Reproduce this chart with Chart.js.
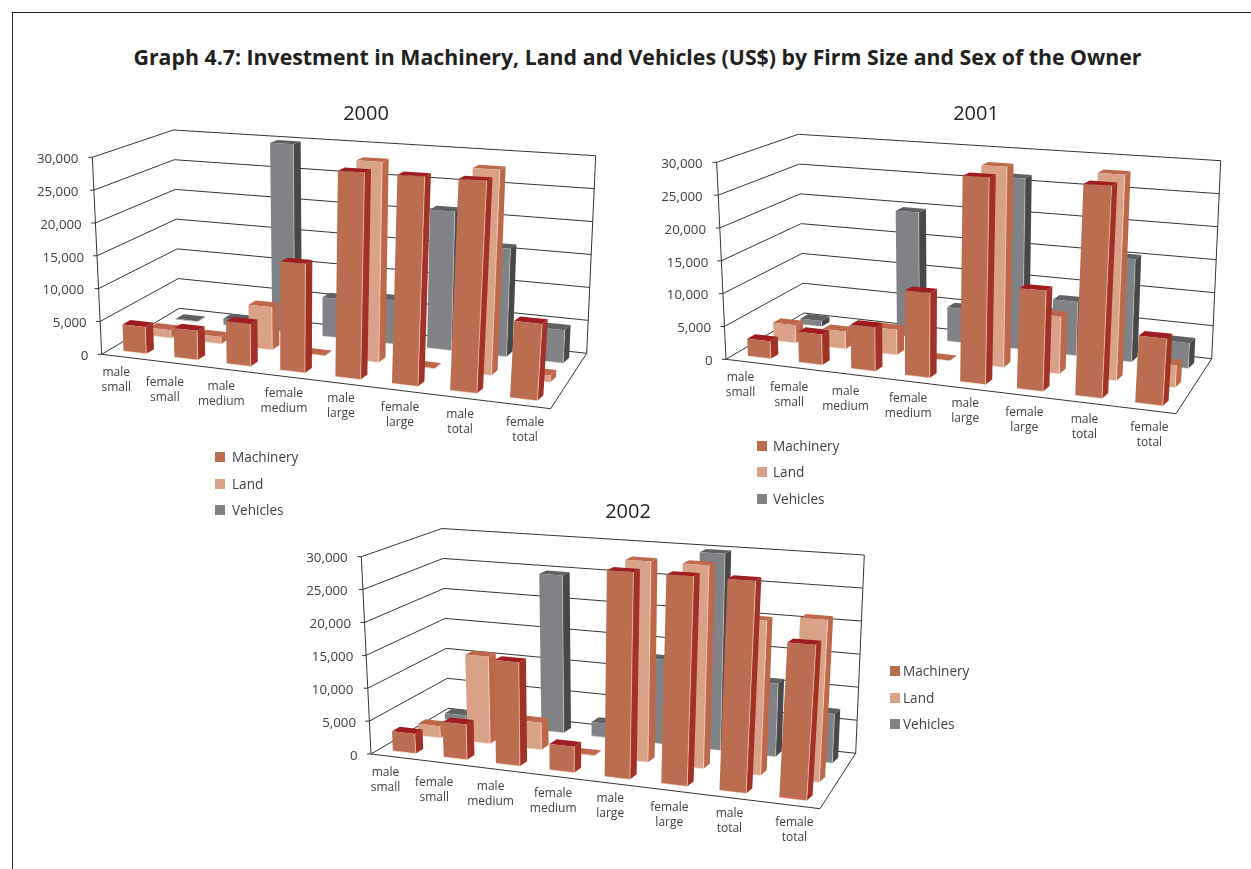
<!DOCTYPE html>
<html><head><meta charset="utf-8">
<script src="https://cdn.jsdelivr.net/npm/chart.js@4"></script>
<style>
html,body{margin:0;padding:0;background:#fff;overflow:hidden;width:1251px;height:869px}
#frame{position:absolute;left:12px;top:12px;width:1260px;height:900px;border-left:1px solid #222;border-top:1px solid #222}
#head{position:absolute;left:0;width:1275px;top:42px;text-align:center;font:bold 21.3px "Open Sans",sans-serif;color:#231f20;line-height:30px;white-space:nowrap}
canvas{position:absolute}
</style></head><body>
<div id="frame"></div>
<div id="head">Graph 4.7: Investment in Machinery, Land and Vehicles (US$) by Firm Size and Sex of the Owner</div>
<canvas id="c2000"></canvas><canvas id="c2001"></canvas><canvas id="c2002"></canvas>
<script>
const categories=['male small','female small','male medium','female medium','male large','female large','male total','female total'];
const seriesNames=['Machinery','Land','Vehicles'];
const machinery2000=[4100,4400,6300,16000,30000,30000,30000,10700];
const land2000=[1260,1100,6560,100,30000,100,30000,1000];
const vehicles2000=[100,1000,30000,6100,6800,21300,16300,4900];
const machinery2001=[2670,4600,6560,12450,30000,14400,30000,9350];
const land2001=[2800,2700,3850,100,30000,8500,30000,3200];
const vehicles2001=[900,500,19900,5300,26500,8200,15500,3750];
const machinery2002=[3000,5300,15400,3800,30000,30000,30000,21700];
const land2002=[1850,13500,4150,100,30000,30000,22500,23300];
const vehicles2002=[1000,2000,24900,2200,13000,30000,11000,7300];

const faces=[
 {front:'#BA6E4F',top:'#A01C1E',side:'#A03226',edge:'rgba(255,225,205,.75)'},
 {front:'#D9A287',top:'#BE684A',side:'#BE684A',edge:'rgba(255,235,220,.75)'},
 {front:'#808285',top:'#5F6062',side:'#464849',edge:'rgba(225,225,225,.6)'}];
const rowFront=[.105,.44,.79], rowDepth=.1, warpR=1.115, sideShear=2.2;
const labelDX=[14.5,63.2,119.6,182.2,239.2,298.3,358.4,423.4];
const labelDY=[18.4,28.4,32.4,39.4,44.7,53.4,60,68.4];
const tickDX=[-13.3,-15,-17.7,-17.7,-20,-23.3,-23.3];
const FONT='"Open Sans",sans-serif', INK='#414042', LINE='#333';

const panels=[
 {id:'c2000',year:'2000',titlePad:12,data:[machinery2000,land2000,vehicles2000],box:[0,90,732,440],
  fbl:[101.7,354.3],ftl:[92.3,157.3],btl:[173.3,130],bbl:[179.3,308.3],btr:[595.7,155.7],bbr:[586.7,353.3],fbr:[550.7,408.7],ftr:[565,190],
  legend:{sx:215,tx:232,ys:[458,485,511]}},
 {id:'c2001',year:'2001',titlePad:12,data:[machinery2001,land2001,vehicles2001],box:[650,90,652,420],
  fbl:[726,359.3],ftl:[716.7,162.3],btl:[798.3,134.3],bbl:[804,313],btr:[1220.7,160.7],bbr:[1211.7,358.7],fbr:[1176,413.7],ftr:[1190,195],
  legend:{sx:757,tx:773,ys:[447,473,500]}},
 {id:'c2002',year:'2002',titlePad:10,data:[machinery2002,land2002,vehicles2002],box:[268,490,720,379],
  fbl:[371,754],ftl:[361.3,556.7],btl:[442,528.5],bbl:[448.3,708.3],btr:[864.3,555],bbr:[855.7,753.3],fbr:[820,808.7],ftr:[834,590],
  legend:{sx:890,tx:903,ys:[672,699,725]}}];

const lerp=(a,b,t)=>[a[0]+(b[0]-a[0])*t,a[1]+(b[1]-a[1])*t];
function projector(p,ox,oy){
 return (u,v,w)=>{
  const U=u/(u+(1-u)*warpR);
  const f=lerp(lerp(p.fbl,p.fbr,U),lerp(p.bbl,p.bbr,U),w);
  const t=lerp(lerp(p.ftl,p.ftr,U),lerp(p.btl,p.btr,U),w);
  const q=lerp(f,t,v);
  return [q[0]-ox,q[1]-oy];
 };
}
function poly(ctx,pts,fill){
 ctx.beginPath();pts.forEach((q,i)=>i?ctx.lineTo(q[0],q[1]):ctx.moveTo(q[0],q[1]));ctx.closePath();
 ctx.fillStyle=fill;ctx.fill();
}
function seg(ctx,a,b){ctx.beginPath();ctx.moveTo(a[0],a[1]);ctx.lineTo(b[0],b[1]);ctx.stroke();}

const scene={
 id:'scene',
 beforeDatasetsDraw(chart,args,opts){
  const p=opts.panel,ctx=chart.ctx,area=chart.chartArea,Y=chart.scales.y;
  const P=projector(p,p.box[0],p.box[1]);
  const vOf=val=>(area.bottom-Y.getPixelForValue(val))/area.height;
  ctx.save();
  ctx.strokeStyle=LINE;ctx.lineWidth=1;
  // walls, floor and value labels
  ctx.font='13.3px '+FONT;ctx.textAlign='right';ctx.textBaseline='middle';
  Y.ticks.forEach((t,i)=>{
   const v=vOf(t.value);
   const a=P(0,v,0),b=P(0,v,1),c=P(1,v,1);
   seg(ctx,a,b);seg(ctx,b,c);
   seg(ctx,[a[0]-4,a[1]],a);
   ctx.fillStyle=INK;
   ctx.fillText(t.label,p.fbl[0]+tickDX[i]-p.box[0],a[1]+2);
  });
  seg(ctx,P(0,0,0),P(0,1,0));
  seg(ctx,P(1,0,1),P(1,1,1));
  seg(ctx,P(0,0,0),P(1,0,0));
  seg(ctx,P(1,0,0),P(1,0,1));
  // bars, back row first
  for(let d=chart.data.datasets.length-1;d>=0;d--){
   const meta=chart.getDatasetMeta(d),c=faces[d];
   const w0=rowFront[d],w1=w0+rowDepth;
   meta.data.forEach(el=>{
    const u0=(el.x-el.width/2-area.left)/area.width,u1=(el.x+el.width/2-area.left)/area.width;
    const v=(area.bottom-el.y)/area.height;
    const sh=q=>[q[0]+sideShear*u1,q[1]];
    const fl0=P(u0,0,w0),fr0=P(u1,0,w0),fl1=P(u0,v,w0),fr1=P(u1,v,w0);
    const bl1=sh(P(u0,v,w1)),br1=sh(P(u1,v,w1)),br0=sh(P(u1,0,w1));
    poly(ctx,[fr0,br0,br1,fr1],c.side);
    poly(ctx,[fl1,fr1,br1,bl1],c.top);
    poly(ctx,[fl0,fr0,fr1,fl1],c.front);
    ctx.save();ctx.strokeStyle=c.edge;ctx.lineWidth=.8;
    seg(ctx,fl0,fr0);seg(ctx,fr0,fr1);ctx.restore();
   });
  }
  // category labels
  ctx.fillStyle=INK;ctx.font='12px '+FONT;ctx.textAlign='center';ctx.textBaseline='middle';
  chart.data.labels.forEach((lab,i)=>{
   const x=p.fbl[0]+labelDX[i]-p.box[0],y=p.fbl[1]+labelDY[i]-p.box[1];
   lab.split(' ').forEach((s,k)=>ctx.fillText(s,x,y+k*15));
  });
  // legend
  ctx.textAlign='left';ctx.font='13.6px '+FONT;
  chart.data.datasets.forEach((ds,i)=>{
   const y=p.legend.ys[i]-p.box[1];
   ctx.fillStyle=ds.backgroundColor;ctx.fillRect(p.legend.sx-p.box[0],y-6,10,10);
   ctx.fillStyle=INK;ctx.fillText(ds.label,p.legend.tx-p.box[0],y);
  });
  ctx.restore();
  return false;
 }
};

panels.forEach(p=>{
 const cv=document.getElementById(p.id),[l,t,w,h]=p.box;
 cv.width=w;cv.height=h;cv.style.left=l+'px';cv.style.top=t+'px';
 new Chart(cv,{
  type:'bar',
  plugins:[scene],
  data:{labels:categories,datasets:p.data.map((vals,i)=>({label:seriesNames[i],data:vals,backgroundColor:faces[i].front,grouped:false,barPercentage:.45,categoryPercentage:1}))},
  options:{
   responsive:false,animation:false,
   layout:{padding:{top:0,left:0,right:0,bottom:h-(p.fbl[1]-t)}},
   plugins:{
    legend:{display:false},tooltip:{enabled:false},
    title:{display:true,text:p.year,color:'#231f20',font:{family:FONT,size:20,weight:'normal',lineHeight:1.2},padding:{top:p.titlePad,bottom:p.ftl[1]-t-24-p.titlePad}},
    scene:{panel:p}
   },
   scales:{
    x:{display:false},
    y:{min:0,max:30000,
     afterFit(s){s.width=p.fbl[0]-13-l;},
     border:{display:false},grid:{display:false,drawTicks:false},
     ticks:{stepSize:5000,display:false}}
   }
  }
 });
});
</script>
</body></html>
